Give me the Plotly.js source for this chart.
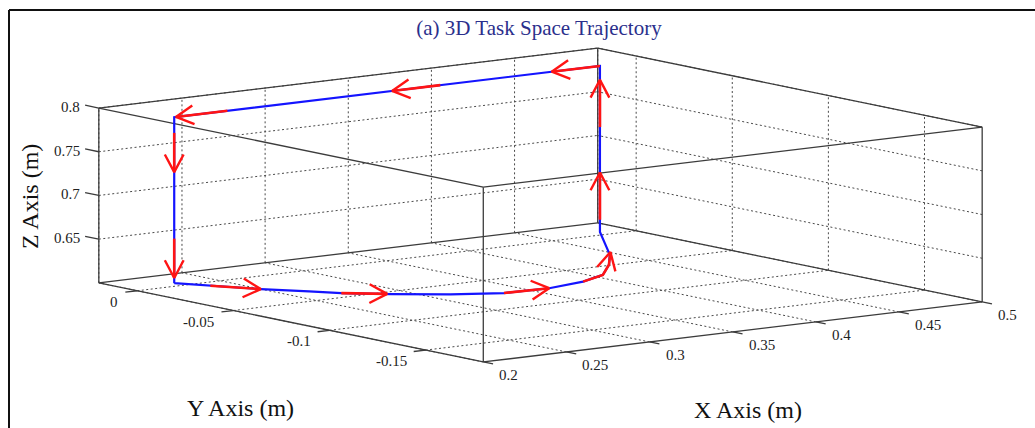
<!DOCTYPE html>
<html>
<head>
<meta charset="utf-8">
<script src="https://cdn.plot.ly/plotly-3.0.1.min.js"></script>
<style>
  html, body { margin: 0; padding: 0; background: #ffffff; }
  #plot { width: 1035px; height: 428px; }
</style>
</head>
<body>
<div id="plot"></div>
<script>
// End-effector path in task space (m): floor arc, right riser, top run, left riser
const pathX = [0.228, 0.237, 0.250, 0.264, 0.273, 0.290, 0.312, 0.335, 0.361, 0.386, 0.406, 0.427, 0.446, 0.454, 0.471, 0.484, 0.484, 0.228, 0.228];
const pathY = [0.005, -0.006, -0.021, -0.034, -0.043, -0.054, -0.066, -0.074, -0.075, -0.071, -0.064, -0.049, -0.033, -0.025, -0.008, 0.005, 0.005, 0.005, 0.005];
const pathZ = [0.600, 0.600, 0.600, 0.600, 0.600, 0.600, 0.600, 0.600, 0.600, 0.600, 0.600, 0.600, 0.600, 0.600, 0.600, 0.600, 0.790, 0.790, 0.600];

// Direction-of-travel arrows along the path (tail -> tip)
const arrowTailX = [0.484, 0.388, 0.260, 0.228, 0.228, 0.237, 0.273, 0.335, 0.386, 0.484, 0.484];
const arrowTailY = [0.005, 0.005, 0.005, 0.005, 0.005, -0.006, -0.043, -0.074, -0.071, 0.005, 0.005];
const arrowTailZ = [0.790, 0.790, 0.790, 0.772, 0.651, 0.600, 0.600, 0.600, 0.600, 0.614, 0.720];
const arrowTipX  = [0.455, 0.359, 0.229, 0.228, 0.228, 0.250, 0.289, 0.361, 0.451, 0.484, 0.484];
const arrowTipY  = [0.005, 0.005, 0.005, 0.005, 0.005, -0.021, -0.053, -0.075, -0.029, 0.005, 0.005];
const arrowTipZ  = [0.790, 0.790, 0.790, 0.727, 0.606, 0.600, 0.600, 0.600, 0.600, 0.668, 0.774];

// Axis limits and ticks
const xRange = [0.2, 0.5];
const yRange = [-0.18, 0.02];
const zRange = [0.6, 0.8];
const xTicks = [0.2, 0.25, 0.3, 0.35, 0.4, 0.45, 0.5];
const yTicks = [-0.15, -0.1, -0.05, 0];
const zTicks = [0.65, 0.7, 0.75, 0.8];

// Orthographic view: viewer direction (azimuth/elevation, degrees) and plot-box edge lengths (px)
const view = {az: 232.6, el: 9.05};
const box = {x: 628, y: 633, z: 177};
const centrePx = {u: 540.5, v: 205};
const W = 1035, H = 428;

const phi = view.az * Math.PI / 180, th = view.el * Math.PI / 180;
const mid = r => (r[0] + r[1]) / 2, span = r => r[1] - r[0];
function project(x, y, z) {
  if (x === null || y === null || z === null) return [null, null];
  const X = (x - mid(xRange)) / span(xRange) * box.x;
  const Y = (y - mid(yRange)) / span(yRange) * box.y;
  const Z = (z - mid(zRange)) / span(zRange) * box.z;
  const u = -Math.sin(phi) * X + Math.cos(phi) * Y;
  const v = -Math.sin(th) * (Math.cos(phi) * X + Math.sin(phi) * Y) + Math.cos(th) * Z;
  return [u, v];
}
function projectAll(xs, ys, zs) {
  const u = [], v = [];
  for (let i = 0; i < xs.length; i++) { const p = project(xs[i], ys[i], zs[i]); u.push(p[0]); v.push(p[1]); }
  return {u, v};
}
// unit screen direction of a data-space step
function screenDir(dx, dy, dz) {
  const a = project(mid(xRange), mid(yRange), mid(zRange));
  const b = project(mid(xRange) + dx, mid(yRange) + dy, mid(zRange) + dz);
  const l = Math.hypot(b[0] - a[0], b[1] - a[1]);
  return [(b[0] - a[0]) / l, (b[1] - a[1]) / l];
}

// Box edges
const bx = [], by = [], bz = [];
const edge = (a, b) => { bx.push(a[0], b[0], null); by.push(a[1], b[1], null); bz.push(a[2], b[2], null); };
for (const y of yRange) for (const z of zRange) edge([xRange[0], y, z], [xRange[1], y, z]);
for (const x of xRange) for (const z of zRange) edge([x, yRange[0], z], [x, yRange[1], z]);
for (const x of xRange) for (const y of yRange) edge([x, y, zRange[0]], [x, y, zRange[1]]);
const boxP = projectAll(bx, by, bz);

// Grid on the three far faces: floor (z min), back wall (y max), side wall (x max)
const gx = [], gy = [], gz = [];
const gline = (a, b) => { gx.push(a[0], b[0], null); gy.push(a[1], b[1], null); gz.push(a[2], b[2], null); };
for (const t of xTicks) {
  gline([t, yRange[0], zRange[0]], [t, yRange[1], zRange[0]]);
  gline([t, yRange[1], zRange[0]], [t, yRange[1], zRange[1]]);
}
for (const t of yTicks) {
  gline([xRange[0], t, zRange[0]], [xRange[1], t, zRange[0]]);
  gline([xRange[1], t, zRange[0]], [xRange[1], t, zRange[1]]);
}
for (const t of zTicks) {
  gline([xRange[0], yRange[1], t], [xRange[1], yRange[1], t]);
  gline([xRange[1], yRange[0], t], [xRange[1], yRange[1], t]);
}
const gridP = projectAll(gx, gy, gz);

// Tick marks on the labelled edges, pointing outward, with their labels
const tu = [], tv = [];
const annotations = [];
const tickFont = {family: 'Liberation Serif, Times New Roman, serif', size: 15, color: '#222222'};
function addTick(p, dir, len, label, xanchor, xshift, yshift) {
  tu.push(p[0], p[0] + dir[0] * len, null);
  tv.push(p[1], p[1] + dir[1] * len, null);
  annotations.push({text: label, x: p[0], y: p[1], xref: 'x', yref: 'y', showarrow: false,
    xanchor: xanchor, yanchor: 'middle', xshift: xshift, yshift: yshift, font: tickFont});
}
const dirMinusY = screenDir(0, -1, 0), dirMinusX = screenDir(-1, 0, 0), dirPlusY = screenDir(0, 1, 0);
for (const t of xTicks) addTick(project(t, yRange[0], zRange[0]), dirMinusY, 10, String(t), 'left', 14, -13);
for (const t of yTicks) addTick(project(xRange[0], t, zRange[0]), dirMinusX, 12, String(t), 'right', -17, -11);
for (const t of zTicks) addTick(project(xRange[0], yRange[1], t), dirPlusY, 14, String(t), 'right', -17, 1);

// Position of a point along the path, as segment index + fraction
function pathParam(x, y, z) {
  let best = Infinity, param = 0;
  for (let i = 0; i < pathX.length - 1; i++) {
    const d = [pathX[i + 1] - pathX[i], pathY[i + 1] - pathY[i], pathZ[i + 1] - pathZ[i]];
    const q = [x - pathX[i], y - pathY[i], z - pathZ[i]];
    const dd = d[0] * d[0] + d[1] * d[1] + d[2] * d[2];
    let t = dd > 0 ? (q[0] * d[0] + q[1] * d[1] + q[2] * d[2]) / dd : 0;
    t = Math.max(0, Math.min(1, t));
    const r = Math.hypot(q[0] - t * d[0], q[1] - t * d[1], q[2] - t * d[2]);
    if (r < best - 1e-12) { best = r; param = i + t; }
  }
  return param;
}

// Path, red arrow shafts (following the path) and open heads
const pathP = projectAll(pathX, pathY, pathZ);
const su = [], sv = [], hu = [], hv = [];
const headLen = 20, headAng = 28 * Math.PI / 180;
for (let i = 0; i < arrowTipX.length; i++) {
  const pts = [project(arrowTailX[i], arrowTailY[i], arrowTailZ[i])];
  const s0 = pathParam(arrowTailX[i], arrowTailY[i], arrowTailZ[i]);
  const s1 = pathParam(arrowTipX[i], arrowTipY[i], arrowTipZ[i]);
  for (let j = 0; j < pathX.length; j++) {
    if (j > s0 + 1e-6 && j < s1 - 1e-6) pts.push(project(pathX[j], pathY[j], pathZ[j]));
  }
  const b = project(arrowTipX[i], arrowTipY[i], arrowTipZ[i]);
  pts.push(b);
  for (const p of pts) { su.push(p[0]); sv.push(p[1]); }
  su.push(null); sv.push(null);
  const a = pts[pts.length - 2];
  const ang = Math.atan2(b[1] - a[1], b[0] - a[0]);
  hu.push(b[0] - headLen * Math.cos(ang - headAng), b[0], b[0] - headLen * Math.cos(ang + headAng), null);
  hv.push(b[1] - headLen * Math.sin(ang - headAng), b[1], b[1] - headLen * Math.sin(ang + headAng), null);
}

const traces = [
  {type: 'scatter', mode: 'lines', x: gridP.u, y: gridP.v, connectgaps: false,
   line: {color: '#4a4a4a', width: 1, dash: '2px,2.5px'}, hoverinfo: 'skip', showlegend: false},
  {type: 'scatter', mode: 'lines', x: boxP.u, y: boxP.v, connectgaps: false,
   line: {color: '#3c3c3c', width: 1.3}, hoverinfo: 'skip', showlegend: false},
  {type: 'scatter', mode: 'lines', x: tu, y: tv, connectgaps: false,
   line: {color: '#3c3c3c', width: 1.3}, hoverinfo: 'skip', showlegend: false},
  {type: 'scatter', mode: 'lines', x: pathP.u, y: pathP.v,
   line: {color: '#1414ff', width: 2.2}, hoverinfo: 'skip', showlegend: false},
  {type: 'scatter', mode: 'lines', x: su, y: sv, connectgaps: false,
   line: {color: '#ff1414', width: 2.6}, hoverinfo: 'skip', showlegend: false},
  {type: 'scatter', mode: 'lines', x: hu, y: hv, connectgaps: false,
   line: {color: '#ff1414', width: 2.4}, hoverinfo: 'skip', showlegend: false}
];

const labelFont = {family: 'Liberation Serif, Times New Roman, serif', size: 24, color: '#111111'};
annotations.push(
  {text: 'Z Axis (m)', xref: 'paper', yref: 'paper', x: 30 / W, y: 1 - 197 / H, textangle: -90,
   showarrow: false, font: labelFont, xanchor: 'center', yanchor: 'middle'},
  {text: 'Y Axis (m)', xref: 'paper', yref: 'paper', x: 240 / W, y: 1 - 408 / H,
   showarrow: false, font: labelFont, xanchor: 'center', yanchor: 'middle'},
  {text: 'X Axis (m)', xref: 'paper', yref: 'paper', x: 748 / W, y: 1 - 410 / H,
   showarrow: false, font: labelFont, xanchor: 'center', yanchor: 'middle'}
);

const layout = {
  width: W, height: H,
  margin: {l: 0, r: 0, t: 0, b: 0},
  paper_bgcolor: '#ffffff', plot_bgcolor: '#ffffff',
  title: {text: '(a) 3D Task Space Trajectory', x: 539 / W, y: 1 - 28 / H, xanchor: 'center', yanchor: 'middle',
          font: {family: 'Liberation Serif, Times New Roman, serif', size: 21, color: '#2b2f8c'}},
  xaxis: {visible: false, range: [-centrePx.u, W - centrePx.u], fixedrange: true},
  yaxis: {visible: false, range: [centrePx.v - H, centrePx.v], fixedrange: true},
  annotations: annotations,
  shapes: [
    {type: 'line', xref: 'paper', yref: 'paper', x0: 9 / W, x1: 9 / W, y0: 0, y1: 1 - 10 / H,
     line: {color: '#111111', width: 2}},
    {type: 'line', xref: 'paper', yref: 'paper', x0: 9 / W, x1: 1, y0: 1 - 10 / H, y1: 1 - 10 / H,
     line: {color: '#111111', width: 2}}
  ]
};

Plotly.newPlot('plot', traces, layout, {displayModeBar: false, staticPlot: true});
</script>
</body>
</html>
